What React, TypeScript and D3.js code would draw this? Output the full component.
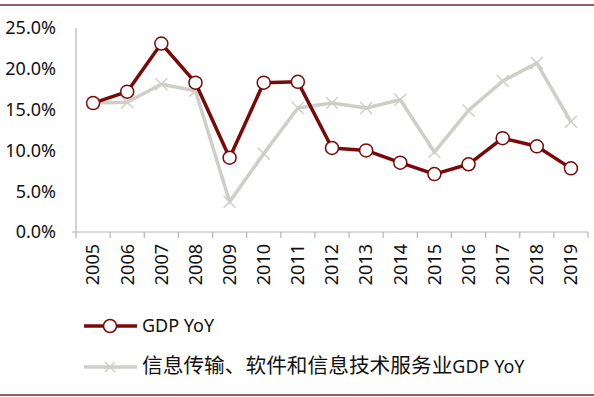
import React, { useEffect, useRef } from 'react';
import * as d3 from 'd3';

const years = ['2005', '2006', '2007', '2008', '2009', '2010', '2011', '2012', '2013', '2014', '2015', '2016', '2017', '2018', '2019'];
const gdpYoY = [15.8, 17.2, 23.1, 18.3, 9.1, 18.3, 18.4, 10.3, 10.0, 8.5, 7.1, 8.3, 11.5, 10.5, 7.8];
const itYoY = [15.8, 15.9, 18.1, 17.3, 3.7, 9.6, 15.2, 15.8, 15.2, 16.2, 9.8, 14.9, 18.5, 20.7, 13.5];
const yTicks = [0, 5, 10, 15, 20, 25];
const seriesNames = ['GDP YoY', '信息传输、软件和信息技术服务业', 'GDP YoY'];

const RED = '#7a0a0a';
const GREY = '#cfcfc9';
const FONT = '"Noto Sans", "Noto Sans CJK SC", sans-serif';

const GdpChart = () => {
  const svgRef = useRef<SVGSVGElement>(null);

  useEffect(() => {
    const width = 594;
    const height = 397;
    const svg = d3.select(svgRef.current);
    svg.selectAll('*').remove();
    svg.attr('width', width).attr('height', height);

    svg.append('rect').attr('width', width).attr('height', height).attr('fill', '#fff');

    // frame lines top and bottom
    svg.append('line').attr('x1', 0).attr('x2', width).attr('y1', 5).attr('y2', 5)
      .attr('stroke', '#8e6262').attr('stroke-width', 2);
    svg.append('line').attr('x1', 0).attr('x2', width).attr('y1', 395).attr('y2', 395)
      .attr('stroke', '#8e6262').attr('stroke-width', 2);

    const x = d3.scaleBand().domain(years).range([76, 588]);
    const y = d3.scaleLinear().domain([0, 25]).range([232, 28]);
    const cx = (d: string) => (x(d) as number) + x.bandwidth() / 2;

    // y axis
    svg.append('line').attr('x1', 76).attr('x2', 76).attr('y1', y(25)).attr('y2', y(0))
      .attr('stroke', '#b4b4b4').attr('stroke-width', 1.2);
    svg.append('g').selectAll('text').data(yTicks).enter().append('text')
      .attr('x', 56).attr('y', d => y(d)).attr('dy', '0.35em')
      .attr('text-anchor', 'end').attr('font-family', FONT).attr('font-size', 18)
      .attr('fill', '#111')
      .text(d => d3.format('.1f')(d) + '%');

    // x axis
    svg.append('line').attr('x1', 72).attr('x2', 588).attr('y1', y(0)).attr('y2', y(0))
      .attr('stroke', '#b4b4b4').attr('stroke-width', 1.2);
    const edges = years.map(d => x(d) as number).concat([588]);
    svg.append('g').selectAll('line').data(edges).enter().append('line')
      .attr('x1', d => d).attr('x2', d => d).attr('y1', y(0)).attr('y2', y(0) + 6)
      .attr('stroke', '#b4b4b4').attr('stroke-width', 1.2);
    svg.append('g').selectAll('text').data(years).enter().append('text')
      .attr('transform', d => `translate(${cx(d)},244) rotate(-90)`)
      .attr('dy', '0.35em').attr('text-anchor', 'end')
      .attr('font-family', FONT).attr('font-size', 18).attr('fill', '#111')
      .text(d => d);

    const lineGen = (vals: number[]) => d3.line<number>()
      .x((_, i) => cx(years[i]))
      .y(v => y(v))(vals);

    // IT series
    svg.append('path').attr('d', lineGen(itYoY)).attr('fill', 'none')
      .attr('stroke', GREY).attr('stroke-width', 3.5).attr('stroke-linejoin', 'round');
    const cross = (g: d3.Selection<SVGGElement, unknown, null, undefined>, px: number, py: number, s: number) => {
      g.append('path')
        .attr('d', `M${px - s},${py - s}L${px + s},${py + s}M${px - s},${py + s}L${px + s},${py - s}`)
        .attr('stroke', GREY).attr('stroke-width', 1.5).attr('fill', 'none');
    };
    const crossG = svg.append('g');
    itYoY.forEach((v, i) => cross(crossG, cx(years[i]), y(v), 6));

    // GDP series
    svg.append('path').attr('d', lineGen(gdpYoY)).attr('fill', 'none')
      .attr('stroke', RED).attr('stroke-width', 3.5).attr('stroke-linejoin', 'round');
    svg.append('g').selectAll('circle').data(gdpYoY).enter().append('circle')
      .attr('cx', (_, i) => cx(years[i])).attr('cy', d => y(d)).attr('r', 6.5)
      .attr('fill', '#fff').attr('stroke', RED).attr('stroke-width', 1.5);

    // legend
    const lg = svg.append('g');
    lg.append('line').attr('x1', 84).attr('x2', 137).attr('y1', 326).attr('y2', 326)
      .attr('stroke', RED).attr('stroke-width', 3.5);
    lg.append('circle').attr('cx', 110).attr('cy', 326).attr('r', 6.5)
      .attr('fill', '#fff').attr('stroke', RED).attr('stroke-width', 1.5);
    lg.append('text').attr('x', 142).attr('y', 326).attr('dy', '0.35em')
      .attr('font-family', FONT).attr('font-size', 18).attr('fill', '#111')
      .text(seriesNames[0]);

    lg.append('line').attr('x1', 84).attr('x2', 137).attr('y1', 367).attr('y2', 367)
      .attr('stroke', GREY).attr('stroke-width', 3.5);
    cross(lg as any, 110, 367, 5);
    const t2 = lg.append('text').attr('x', 142).attr('y', 367).attr('dy', '0.35em')
      .attr('font-family', FONT).attr('fill', '#111');
    t2.append('tspan').attr('font-size', 20.7).text(seriesNames[1]);
    t2.append('tspan').attr('font-size', 18).text(seriesNames[2]);
  }, []);

  return (
    <div style={{ position: 'absolute', left: 0, top: 0 }}>
      <svg ref={svgRef} style={{ display: 'block' }}></svg>
    </div>
  );
};

export default function App() {
  return <GdpChart />;
}
